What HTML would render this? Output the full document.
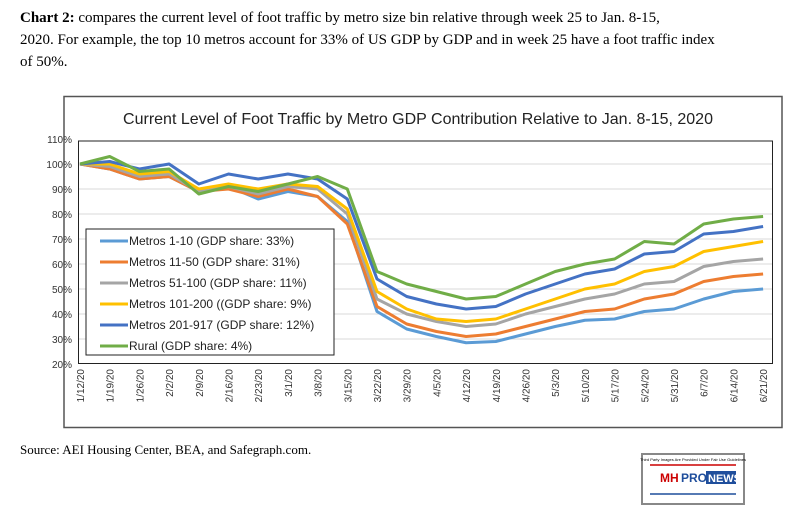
<!DOCTYPE html>
<html><head><meta charset="utf-8"><style>
body{margin:0;background:#fff;width:792px;height:518px;overflow:hidden}
svg{display:block}
</style></head><body>
<svg width="792" height="518" xmlns="http://www.w3.org/2000/svg" font-family="Liberation Sans, sans-serif">
<text x="20" y="22" font-family="Liberation Serif, serif" font-size="15"><tspan font-weight="bold">Chart 2:</tspan> compares the current level of foot traffic by metro size bin relative through week 25 to Jan. 8-15,</text>
<text x="20" y="44" font-family="Liberation Serif, serif" font-size="15">2020. For example, the top 10 metros account for 33% of US GDP by GDP and in week 25 have a foot traffic index</text>
<text x="20" y="66" font-family="Liberation Serif, serif" font-size="15">of 50%.</text>
<rect x="64" y="96.5" width="718" height="331" fill="#fff" stroke="#555" stroke-width="1.5"/>
<text x="418" y="124" font-size="16" text-anchor="middle" fill="#222">Current Level of Foot Traffic by Metro GDP Contribution Relative to Jan. 8-15, 2020</text>
<g stroke="#d9d9d9" stroke-width="1">
<line x1="79" x2="772" y1="164" y2="164"/><line x1="79" x2="772" y1="189" y2="189"/><line x1="79" x2="772" y1="214" y2="214"/><line x1="79" x2="772" y1="239" y2="239"/><line x1="79" x2="772" y1="264" y2="264"/><line x1="79" x2="772" y1="289" y2="289"/><line x1="79" x2="772" y1="314" y2="314"/><line x1="79" x2="772" y1="339" y2="339"/>
</g>
<rect x="78.5" y="141" width="694" height="222.5" fill="none" stroke="#222" stroke-width="1"/>
<g font-size="10" text-anchor="end" fill="#333">
<text x="72" y="143">110%</text><text x="72" y="168">100%</text><text x="72" y="193">90%</text><text x="72" y="218">80%</text><text x="72" y="243">70%</text><text x="72" y="268">60%</text><text x="72" y="293">50%</text><text x="72" y="318">40%</text><text x="72" y="343">30%</text><text x="72" y="368">20%</text>
</g>
<g id="xl" font-size="10" text-anchor="end" fill="#333"></g>
<g id="lines" fill="none" stroke-width="3" stroke-linejoin="round"></g>
<rect x="86" y="229" width="248" height="126" fill="#fff" stroke="#222" stroke-width="1"/>
<g font-size="12" fill="#222">
<line x1="100" x2="128" y1="241" y2="241" stroke="#5b9bd5" stroke-width="3"/><text x="129" y="245">Metros  1-10 (GDP share: 33%)</text>
<line x1="100" x2="128" y1="262" y2="262" stroke="#ed7d31" stroke-width="3"/><text x="129" y="266">Metros  11-50 (GDP share: 31%)</text>
<line x1="100" x2="128" y1="283" y2="283" stroke="#a5a5a5" stroke-width="3"/><text x="129" y="287">Metros  51-100 (GDP share: 11%)</text>
<line x1="100" x2="128" y1="304" y2="304" stroke="#ffc000" stroke-width="3"/><text x="129" y="308">Metros  101-200 ((GDP share: 9%)</text>
<line x1="100" x2="128" y1="325" y2="325" stroke="#4472c4" stroke-width="3"/><text x="129" y="329">Metros  201-917 (GDP share: 12%)</text>
<line x1="100" x2="128" y1="346" y2="346" stroke="#70ad47" stroke-width="3"/><text x="129" y="350">Rural (GDP share: 4%)</text>
</g>
<text x="20" y="454" font-family="Liberation Serif, serif" font-size="13">Source: AEI Housing Center, BEA, and Safegraph.com.</text>
<g>
<rect x="642" y="454" width="102" height="50" fill="#fff" stroke="#888" stroke-width="2"/>
<text x="693" y="461" font-size="4" text-anchor="middle">Third Party Images Are Provided Under Fair Use Guidelines</text>
<line x1="650" x2="736" y1="465" y2="465" stroke="#c00" stroke-width="1.5"/>
<text x="660" y="482" font-size="12" font-weight="bold" fill="#c00">MH</text><text x="681" y="482" font-size="12" font-weight="bold" fill="#1f4e9c">PRO</text>
<rect x="706" y="471" width="30" height="13" fill="#1f4e9c"/><text x="708" y="482" font-size="11" font-weight="bold" fill="#fff">NEWS</text>
<line x1="650" x2="736" y1="494" y2="494" stroke="#1f4e9c" stroke-width="1.5"/>
</g>
</svg>
<script>
const dates=["1/12/20","1/19/20","1/26/20","2/2/20","2/9/20","2/16/20","2/23/20","3/1/20","3/8/20","3/15/20","3/22/20","3/29/20","4/5/20","4/12/20","4/19/20","4/26/20","5/3/20","5/10/20","5/17/20","5/24/20","5/31/20","6/7/20","6/14/20","6/21/20"];
const X=i=>80+i*29.7, Y=v=>164+(100-v)*2.5;
const ns="http://www.w3.org/2000/svg";
const xl=document.getElementById('xl');
dates.forEach((d,i)=>{const t=document.createElementNS(ns,'text');t.setAttribute('transform',`translate(${X(i)+4},369) rotate(-90)`);t.textContent=d;xl.appendChild(t);});
const S=[
["#5b9bd5",[100,98,94,95,89,91,86,89,87,77,41,34,31,28.5,29,32,35,37.5,38,41,42,46,49,50]],
["#ed7d31",[100,98,94,95,89,90,87,90,87,76,43,36,33,31,32,35,38,41,42,46,48,53,55,56]],
["#a5a5a5",[100,99,95,96,89,91,88,91,90,80,46,40,37,35,36,40,43,46,48,52,53,59,61,62]],
["#ffc000",[100,100,96,97,90,92,90,92,91,82,49,42,38,37,38,42,46,50,52,57,59,65,67,69]],
["#4472c4",[100,101,98,100,92,96,94,96,94,86,54,47,44,42,43,48,52,56,58,64,65,72,73,75]],
["#70ad47",[100,103,97,98,88,91,89,92,95,90,57,52,49,46,47,52,57,60,62,69,68,76,78,79]]];
const g=document.getElementById('lines');
S.forEach(([c,v])=>{const p=document.createElementNS(ns,'polyline');p.setAttribute('points',v.map((y,i)=>X(i)+','+Y(y)).join(' '));p.setAttribute('stroke',c);g.appendChild(p);});
</script>
</body></html>
